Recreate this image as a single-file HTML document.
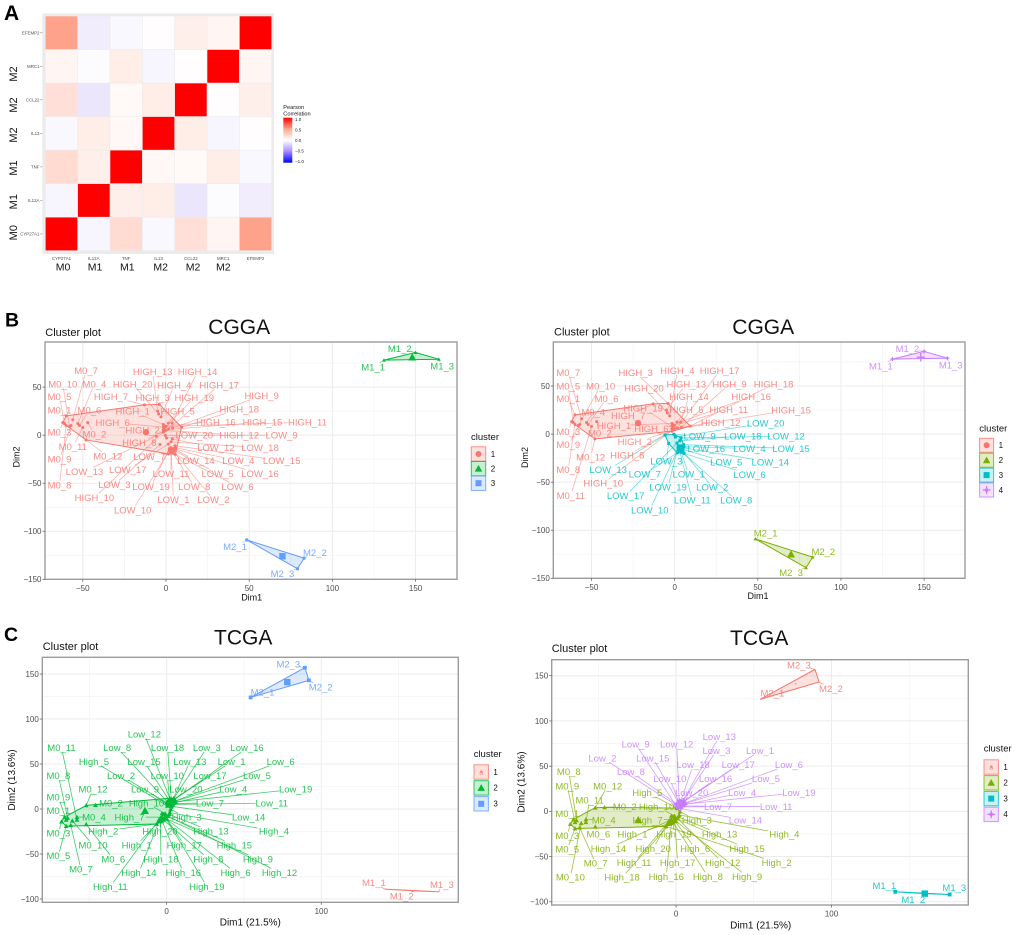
<!DOCTYPE html>
<html>
<head>
<meta charset="utf-8">
<title>Correlation heatmap and cluster plots</title>
<style>
html,body{margin:0;padding:0;background:#fff;width:1020px;height:935px;overflow:hidden}
svg{display:block;font-family:"Liberation Sans",sans-serif;filter:blur(0.35px)}
</style>
</head>
<body>
<svg id="fig" xmlns="http://www.w3.org/2000/svg" width="1020" height="935" viewBox="0 0 1020 935">
<defs>
<linearGradient id="cbar" x1="0" y1="0" x2="0" y2="1">
<stop offset="0" stop-color="#ff0000"/><stop offset="0.25" stop-color="#ffa98f"/><stop offset="0.5" stop-color="#ffffff"/><stop offset="0.75" stop-color="#a58cff"/><stop offset="1" stop-color="#0000ff"/>
</linearGradient>
</defs>
</svg>
<script>
// ---------- heatmap data ----------
const genes = ["CYP27A1","IL12A","TNF","IL13","CCL22","MRC1","EFEMP2"];
const geneTypesX = ["M0","M1","M1","M2","M2","M2"];
const geneTypesY = ["M0","M1","M1","M2","M2","M2"];
const corrCYP27A1 = [1,-.05,.17,-.04,.15,.05,.4];
const corrIL12A = [-.05,1,.08,.09,-.12,-.02,-.09];
const corrTNF = [.17,.08,1,.04,.03,.09,-.04];
const corrIL13 = [-.04,.09,.04,1,.09,-.05,.01];
const corrCCL22 = [.15,-.12,.03,.09,1,.01,.08];
const corrMRC1 = [.05,-.02,.09,-.05,.01,1,.05];
const corrEFEMP2 = [.4,-.09,-.04,.01,.08,.05,1];
const corrRows = [corrCYP27A1,corrIL12A,corrTNF,corrIL13,corrCCL22,corrMRC1,corrEFEMP2];
const corrTicks = [1,0.5,0,-0.5,-1];

// ---------- cluster data (Dim1, Dim2) ----------
const cggaM0 = [["M0_1",-60,20],["M0_2",-47,13],["M0_3",-62,13],["M0_4",-53,12],["M0_5",-61,12],["M0_6",-52,10],["M0_7",-56,16],["M0_8",-60,10],["M0_9",-57,10],["M0_10",-58,9],["M0_11",-50,8],["M0_12",-48,-5]];
const cggaHigh = [["HIGH_1",-1.6,11],["HIGH_2",-1.6,3],["HIGH_3",-4,32],["HIGH_4",-3,19],["HIGH_5",1.4,12.5],["HIGH_6",-1.6,8.3],["HIGH_7",-13,31.5],["HIGH_8",0,5],["HIGH_9",4,7.3],["HIGH_10",-1,4.5],["HIGH_11",0,9],["HIGH_12",-1.6,5],["HIGH_13",-5,25],["HIGH_14",3.6,12.5],["HIGH_15",-1.6,5.5],["HIGH_16",-1,9.7],["HIGH_17",1.6,6.6],["HIGH_18",9.4,8.3],["HIGH_19",-1,7],["HIGH_20",-4.4,22]];
const cggaLow = [["LOW_1",3,-15],["LOW_2",4.5,-17],["LOW_3",-3.6,-9.7],["LOW_4",5.5,-13],["LOW_5",5,-16],["LOW_6",5.6,-20],["LOW_7",1.5,-19.5],["LOW_8",4,-18],["LOW_9",-0.4,-0.3],["LOW_10",2,-16],["LOW_11",3,-18],["LOW_12",3.8,-4],["LOW_13",-5.8,-1],["LOW_14",4.5,-14],["LOW_15",5.4,-11],["LOW_16",3,-13],["LOW_17",1.4,-9.3],["LOW_18",3,-7],["LOW_19",2,-14],["LOW_20",0.4,-3]];
const cggaM1 = [["M1_1",131,78],["M1_2",150,86],["M1_3",164,79]];
const cggaM2 = [["M2_1",48.5,-109],["M2_2",83,-128],["M2_3",79,-139]];

const tcgaM0 = [["M0_1",-66,-9],["M0_2",-46,4.4],["M0_3",-68,-14],["M0_4",-58,-9],["M0_5",-65,-19],["M0_6",-52,-17],["M0_7",-62,-18],["M0_8",-64,-10],["M0_9",-65,-12],["M0_10",-61,-13],["M0_11",-58,-12],["M0_12",-52,4]];
const tcgaHigh = [["High_1",-5,-14],["High_2",-6.5,-16.7],["High_3",2.5,-0.5],["High_4",2,-4],["High_5",0.5,3.5],["High_6",-1,-10],["High_7",-3,-9],["High_8",-2,-12],["High_9",0,-11],["High_10",-1,-5],["High_11",-5,-12],["High_12",1,-8],["High_13",1.5,-6],["High_14",-4,-10],["High_15",0,-8],["High_16",-3,-13],["High_17",-1,-8],["High_18",-4,-14],["High_19",-2,-6],["High_20",-3,-5]];
const tcgaLow = [["Low_1",5,11],["Low_2",0,7],["Low_3",4,10],["Low_4",5,7],["Low_5",4.5,8],["Low_6",5.5,9],["Low_7",3,6],["Low_8",0.5,8],["Low_9",0.5,5],["Low_10",2,9],["Low_11",4,5],["Low_12",2,12],["Low_13",4.5,12],["Low_14",3,3],["Low_15",1.5,10],["Low_16",3,8],["Low_17",3.5,9.5],["Low_18",3,11],["Low_19",5.8,8],["Low_20",2,5]];
const tcgaM1 = [["M1_1",141,-89],["M1_2",160,-91],["M1_3",176,-92]];
const tcgaM2 = [["M2_1",54.3,124],["M2_2",92,143],["M2_3",89.4,157]];

// ---------- repelled label positions (Dim1, Dim2) ----------
const labelsB1 = [["M0_7",-48,67],["M0_10",-62,53],["M0_4",-43,53],["M0_5",-64,40],["M0_1",-64,26],["M0_6",-46,26],["M0_3",-64,3],["M0_2",-43,1],["M0_11",-56,-12],["M0_12",-35,-22],["M0_9",-64,-25],["M0_8",-64,-52],["HIGH_13",-8,66],["HIGH_14",19,66],["HIGH_20",-20,53],["HIGH_4",5,52],["HIGH_17",32,52],["HIGH_7",-33,40],["HIGH_3",-8,39],["HIGH_19",17,39],["HIGH_9",57.5,41],["HIGH_18",44,27],["HIGH_1",-20,25],["HIGH_5",7,25],["HIGH_6",-32,13],["HIGH_16",30,13.5],["HIGH_15",58,13.5],["HIGH_11",85,13.5],["HIGH_2",-14,5],["LOW_20",17,0],["HIGH_12",44,0],["LOW_9",69.5,0],["HIGH_8",-16,-8],["LOW_12",30,-13],["LOW_18",56.5,-13],["LOW_7",-10,-22.5],["LOW_14",18,-26.5],["LOW_4",43.5,-26.5],["LOW_15",69.5,-26.5],["LOW_13",-49,-38],["LOW_17",-23,-36],["LOW_11",3,-40],["LOW_5",31,-40],["LOW_16",56.5,-40],["LOW_3",-31,-51.5],["LOW_19",-9,-53.5],["LOW_8",17,-53.5],["LOW_6",43,-53.5],["HIGH_10",-43,-65],["LOW_1",4.5,-67],["LOW_2",28.5,-67],["LOW_10",-20,-78],["M2_1",41.5,-116],["M2_2",89.5,-122],["M2_3",70,-144],["M1_1",124.5,71],["M1_2",140.5,90],["M1_3",166,72]];
const labelsB2 = [["M0_7",-64,64],["M0_5",-64,50],["M0_10",-44.5,50],["M0_1",-64,37],["M0_6",-41,37],["M0_4",-49,23],["M0_3",-64,2.4],["M0_2",-45,1],["M0_9",-64,-11],["M0_12",-50.5,-24],["M0_8",-64,-37],["M0_11",-62.5,-64],["HIGH_3",-23.5,64],["HIGH_4",1.6,66],["HIGH_17",27,66],["HIGH_20",-18.5,48],["HIGH_13",7,52],["HIGH_9",33,52],["HIGH_18",59.5,52],["HIGH_14",8.6,39],["HIGH_16",46,39],["HIGH_19",-19,27],["HIGH_5",7,25.6],["HIGH_11",32.5,25.6],["HIGH_15",70,25],["HIGH_7",-28,19],["HIGH_1",-36.5,9],["HIGH_6",-14,5.5],["HIGH_12",27.7,12],["LOW_20",54.7,11.4],["HIGH_2",-24,-8],["LOW_9",15,-2],["LOW_18",41,-2],["LOW_12",67,-2],["LOW_16",19,-15],["LOW_4",45,-15],["LOW_15",70,-15],["HIGH_8",-28.5,-22],["LOW_3",-5,-28],["LOW_5",31,-29],["LOW_14",57.5,-29],["LOW_13",-40,-37],["LOW_7",-18,-41.5],["LOW_1",8.4,-41.5],["LOW_6",45,-42],["HIGH_10",-43,-51],["LOW_19",-4,-55],["LOW_2",22.6,-55],["LOW_17",-29.5,-64],["LOW_11",10.6,-68.5],["LOW_8",37,-68.5],["LOW_10",-15,-79],["M2_1",54.7,-103],["M2_2",89.4,-122],["M2_3",70,-144],["M1_1",124,70.6],["M1_2",140,89],["M1_3",166,72]];
const labelsC1 = [["M0_11",-68,68],["Low_8",-32,68],["Low_12",-14.4,83],["Low_18",0.6,68],["Low_3",26,68],["Low_16",52,68],["High_5",-47,52.6],["Low_15",-14.6,52.6],["Low_13",15,52.6],["Low_1",42,52.6],["Low_6",73.7,52.6],["M0_8",-70,37],["Low_2",-29.5,37],["Low_10",0.4,37],["Low_17",28,37],["Low_5",58.4,37],["Low_9",-14,22],["Low_20",12.5,22],["Low_4",43,22],["Low_19",83.4,22],["M0_12",-47.6,22],["M0_9",-70,13],["M0_2",-36,6.7],["High_10",-13,6.7],["Low_7",28,6.7],["Low_11",68,6.7],["M0_1",-70,-2],["M0_4",-47,-9],["High_7",-24,-9],["High_3",13,-9],["Low_14",53,-9],["High_2",-41,-24.4],["High_20",-4.3,-24.4],["High_13",28.7,-24.4],["High_4",69.4,-24.4],["M0_3",-70,-27],["M0_10",-47.6,-40],["High_1",-19.4,-40],["High_17",11.4,-40],["High_15",43.8,-40],["M0_5",-70,-52],["M0_6",-34.5,-55.6],["High_18",-3.7,-55.6],["High_8",27,-55.6],["High_9",59,-55.6],["M0_7",-55.4,-67],["High_14",-18,-70.7],["High_16",10.8,-70.7],["High_6",44.6,-70.7],["High_12",73,-70.7],["High_11",-36.4,-86],["High_19",26,-86],["M2_1",62,130],["M2_2",99.6,135.6],["M2_3",78.7,161],["M1_1",134,-82],["M1_2",152,-97],["M1_3",178,-84]];
const labelsC2 = [["Low_13",27.8,82.6],["Low_9",-26,74.4],["Low_12",0.4,74.4],["Low_3",26,67],["Low_1",54,67],["Low_2",-47.4,59],["Low_15",-15,59],["Low_18",11,51.5],["Low_17",40,51.5],["Low_6",72.6,51.5],["M0_8",-69,43.7],["Low_8",-29,43.7],["Low_10",-4,36],["Low_16",25.4,36],["Low_5",57.8,36],["M0_9",-70,28],["M0_12",-44,28],["High_5",-18.5,20.7],["Low_20",10,20.7],["Low_4",42.5,20.7],["Low_19",79,20.7],["M0_11",-55.6,12.6],["M0_2",-33,5.5],["High_10",-12.5,5.5],["Low_7",27,5.5],["Low_11",64.4,5.5],["M0_1",-70,-2.6],["M0_4",-46.5,-9.6],["High_7",-18.3,-9.6],["High_3",13.4,-9.6],["Low_14",44.6,-9.6],["High_4",69.7,-25],["M0_3",-70,-27],["M0_6",-50,-25],["High_1",-28,-25],["High_19",-1.3,-25],["High_13",28,-25],["M0_5",-70,-42],["High_14",-43.5,-41],["High_20",-14.7,-41],["High_6",12.3,-41],["High_15",45.7,-41],["High_2",64.7,-56.7],["M0_7",-51.7,-57.4],["High_11",-27,-56.7],["High_17",1,-56.7],["High_12",30,-56.7],["M0_10",-68,-73],["High_18",-34.7,-73],["High_16",-6.3,-72],["High_8",20.5,-72],["High_9",45.7,-72],["M2_3",79,161.5],["M2_1",62,130.7],["M2_2",99.6,135.6],["M1_1",134,-82],["M1_2",152.6,-97.4],["M1_3",179,-84.4]];

// ---------- cluster membership and centres ----------
const membershipB1 = {M0:1,HIGH:1,LOW:1,M1:2,M2:3};
const membershipB2 = {M0:1,HIGH:1,M2:2,LOW:3,M1:4};
const membershipC1 = {M1:1,M0:2,High:2,Low:2,M2:3};
const membershipC2 = {M2:1,M0:2,High:2,M1:3,Low:4};
const centresB1 = [[1,-12,3],[2,148,81],[3,70,-126]];
const centresB2 = [[1,-22,11.4],[2,70,-125],[3,3.2,-14],[4,148,80]];
const centresC1 = [[1,159,-91],[2,-14,-2],[3,78,141]];
const centresC2 = [[1,77,141],[2,-24.3,-9.6],[3,160,-91],[4,2.6,7]];
const cggaTicksX = [-50,0,50,100,150];
const cggaTicksY = [-150,-100,-50,0,50];
const tcgaTicksX = [0,100];
const tcgaTicksY = [-100,-50,0,50,100,150];
const colors3 = {1:"#F8766D",2:"#00BA38",3:"#619CFF"};
const colors4 = {1:"#F8766D",2:"#7CAE00",3:"#00BFC4",4:"#C77CFF"};

// ---------- helpers ----------
const svg = document.getElementById('fig');
function mk(tag, attrs, parent, txt){
  const e = document.createElementNS('http://www.w3.org/2000/svg', tag);
  for (const k in attrs) e.setAttribute(k, attrs[k]);
  if (txt !== undefined) e.textContent = txt;
  (parent || svg).appendChild(e);
  return e;
}
function minus(v){ return String(v).replace('-', '\u2212'); }
function hull(pts){
  const p = pts.slice().sort((a,b)=>a[0]-b[0]||a[1]-b[1]);
  const cross=(o,a,b)=>(a[0]-o[0])*(b[1]-o[1])-(a[1]-o[1])*(b[0]-o[0]);
  const lo=[],up=[];
  for(const q of p){ while(lo.length>1&&cross(lo[lo.length-2],lo[lo.length-1],q)<=0) lo.pop(); lo.push(q); }
  for(const q of p.slice().reverse()){ while(up.length>1&&cross(up[up.length-2],up[up.length-1],q)<=0) up.pop(); up.push(q); }
  lo.pop(); up.pop();
  return lo.concat(up);
}
function marker(g, cluster, cx, cy, s, color){
  let m;
  if (cluster === 1) {
    m = mk('circle',{cx:cx,cy:cy,r:s,fill:color},g);
  } else if (cluster === 2) {
    m = mk('polygon',{points:(cx-s*1.25)+','+(cy+s)+' '+(cx+s*1.25)+','+(cy+s)+' '+cx+','+(cy-s*1.25),fill:color},g);
  } else if (cluster === 3) {
    m = mk('rect',{x:cx-s,y:cy-s,width:2*s,height:2*s,fill:color},g);
  } else {
    m = mk('path',{d:'M'+(cx-s*1.3)+' '+cy+'H'+(cx+s*1.3)+'M'+cx+' '+(cy-s*1.3)+'V'+(cy+s*1.3),stroke:color,'stroke-width':1.3,fill:'none'},g);
  }
  return m;
}

// ---------- heatmap ----------
function corrColor(v){
  const f = Math.pow(Math.abs(v),1.1);
  if (v >= 0) {
    const c = 255*(1-f);
    return 'rgb(255,'+Math.round(c)+','+Math.round(Math.max(0,c-(255-c)*0.25))+')';
  }
  return 'rgb('+Math.round(255*(1-0.8*f))+','+Math.round(255*(1-f))+','+Math.round(255*(1-0.15*f))+')';
}
function drawHeatmap(){
  const g = mk('g',{});
  
  
  const L=45.3,R=271.7,T=16,B=250.7,w=(R-L)/genes.length,h=(B-T)/genes.length;
  const bg = mk('rect',{x:42.3,y:13.3,width:231.7,height:240.7,fill:'#ebebeb'},g);
  
  
  corrRows.forEach((row,r)=>row.forEach((v,c)=>{
    const cell = mk('rect',{x:L+c*w+0.3,y:B-(r+1)*h+0.3,width:w-0.6,height:h-0.6,fill:corrColor(v)},g);
    
    
  }));
  genes.forEach((n,i)=>{
    const xt = mk('text',{x:L+(i+.5)*w,y:260,'font-size':4.4,fill:'#4d4d4d','text-anchor':'middle'},g,n);
    
    
    const yt = mk('text',{x:39.5,y:B-(i+.5)*h+1.5,'font-size':4.4,fill:'#4d4d4d','text-anchor':'end'},g,n);
    
    
    const tk = mk('line',{x1:40.3,x2:42.3,y1:B-(i+.5)*h,y2:B-(i+.5)*h,stroke:'#666','stroke-width':0.5},g);
    
    
  });
  geneTypesX.forEach((t,i)=>{
    const xc = [63,95,127.3,160.7,193,223.3][i];
    const lb = mk('text',{x:xc,y:270.7,'font-size':10.5,fill:'#111','text-anchor':'middle'},g,t);
    
    
  });
  geneTypesY.forEach((t,i)=>{
    const yc = [232.7,201.7,168,135,105,74][i];
    const lb = mk('text',{x:17,y:yc,'font-size':11,fill:'#111','text-anchor':'middle',transform:'rotate(-90 17 '+yc+')'},g,t);
    
    
  });
  const t1 = mk('text',{x:283.3,y:109,'font-size':5.6,fill:'#111'},g,'Pearson');
  
  
  const t2 = mk('text',{x:283.3,y:115.3,'font-size':5.6,fill:'#111'},g,'Correlation');
  
  
  const bar = mk('rect',{x:283.3,y:117.7,width:9,height:45,fill:'url(#cbar)'},g);
  
  
  corrTicks.forEach(v=>{
    const y = 140.2 - v*21;
    const lb = mk('text',{x:295,y:y+1.6,'font-size':4.5,fill:'#222'},g,minus(v.toFixed(1)));
    
    
  });
}

// ---------- cluster plot ----------
function drawCluster(o){
  const g = mk('g',{});
  
  
  const sx = v => o.box[0] + (v-o.dx[0])*(o.box[2]-o.box[0])/(o.dx[1]-o.dx[0]);
  const sy = v => o.box[3] - (v-o.dy[0])*(o.box[3]-o.box[1])/(o.dy[1]-o.dy[0]);
  const colors = o.colors;
  // grid
  const gridLines = (ticks,fn)=>{
    const st = ticks[1]-ticks[0];
    const all = [ticks[0]-st].concat(ticks,[ticks[ticks.length-1]+st]);
    all.forEach(t=>{ fn(t,'#ececec',1); fn(t+st/2,'#f3f3f3',0.7); });
  };
  gridLines(o.ticksX,(t,c,w)=>{
    if (t<=o.dx[0]||t>=o.dx[1]) return;
    const l = mk('line',{x1:sx(t),x2:sx(t),y1:o.box[1],y2:o.box[3],stroke:c,'stroke-width':w},g);
    
    
  });
  gridLines(o.ticksY,(t,c,w)=>{
    if (t<=o.dy[0]||t>=o.dy[1]) return;
    const l = mk('line',{x1:o.box[0],x2:o.box[2],y1:sy(t),y2:sy(t),stroke:c,'stroke-width':w},g);
    
    
  });
  // points by cluster
  const byName = {}, groups = {};
  o.points.forEach(p=>{
    const cl = o.membership[p[0].split('_')[0]];
    byName[p[0]] = {x:p[1],y:p[2],cl:cl};
    (groups[cl] = groups[cl] || []).push([p[1],p[2]]);
  });
  // hulls
  Object.keys(groups).forEach(cl=>{
    const h = hull(groups[cl]).map(p=>sx(p[0])+','+sy(p[1])).join(' ');
    const poly = mk('polygon',{points:h,fill:colors[cl],'fill-opacity':0.22,stroke:colors[cl],'stroke-width':1,'stroke-linejoin':'round'},g);
    
    
  });
  // connector lines
  o.labels.forEach(l=>{
    const p = byName[l[0]];
    const px = sx(p.x), py = sy(p.y), lx = sx(l[1]), ly = sy(l[2]);
    const hw = l[0].length*2.7, hh = 4.2;
    const dx = px-lx, dy = py-ly;
    const t = Math.min(hw/Math.max(Math.abs(dx),.01), hh/Math.max(Math.abs(dy),.01));
    if (t < 1) {
      const seg = mk('line',{x1:px,y1:py,x2:lx+dx*t,y2:ly+dy*t,stroke:colors[p.cl],'stroke-width':0.8,'stroke-opacity':o.lineOpacity},g);
      
      
    }
  });
  // points
  o.points.forEach(p=>{
    const cl = o.membership[p[0].split('_')[0]];
    if (cl === o.tiny) return;
    const m = marker(g, cl, sx(p[1]), sy(p[2]), o.pointSize, colors[cl]);
    
    
  });
  // centres
  o.centres.forEach(c=>{
    const m = marker(g, c[0], sx(c[1]), sy(c[2]), c[0]===o.tiny ? 0.7 : 3.2, colors[c[0]]);
    
    
  });
  // labels
  o.labels.forEach(l=>{
    const p = byName[l[0]];
    const t = mk('text',{x:sx(l[1]),y:sy(l[2])+3.4,'font-size':9.5,fill:colors[p.cl],'fill-opacity':0.85,'text-anchor':'middle'},g,l[0]);
    
    
  });
  // frame
  const fr = mk('rect',{x:o.box[0],y:o.box[1],width:o.box[2]-o.box[0],height:o.box[3]-o.box[1],fill:'none',stroke:'#9c9c9c','stroke-width':1.4},g);
  
  
  // ticks
  o.ticksX.forEach(t=>{
    const k = mk('line',{x1:sx(t),x2:sx(t),y1:o.box[3],y2:o.box[3]+2.5,stroke:'#555','stroke-width':0.7},g);
    
    
    const lb = mk('text',{x:sx(t),y:o.box[3]+11.5,'font-size':8,fill:'#4d4d4d','text-anchor':'middle'},g,minus(t));
    
    
  });
  o.ticksY.forEach(t=>{
    const k = mk('line',{x1:o.box[0]-2.5,x2:o.box[0],y1:sy(t),y2:sy(t),stroke:'#555','stroke-width':0.7},g);
    
    
    const lb = mk('text',{x:o.box[0]-3.5,y:sy(t)+2.9,'font-size':8,fill:'#4d4d4d','text-anchor':'end'},g,minus(t));
    
    
  });
  // text
  const tt = mk('text',{x:o.titleX,y:o.titleY,'font-size':21,fill:'#111'},g,o.title);
  
  
  const cp = mk('text',{x:o.subX,y:o.subY,'font-size':11,fill:'#111'},g,'Cluster plot');
  
  
  const xa = mk('text',{x:o.xLab[1],y:o.xLab[2],'font-size':o.axisSize,fill:'#111','text-anchor':'middle'},g,o.xLab[0]);
  
  
  const ya = mk('text',{x:o.yLab[1],y:o.yLab[2],'font-size':o.axisSize,fill:'#111','text-anchor':'middle',transform:'rotate(-90 '+o.yLab[1]+' '+o.yLab[2]+')'},g,o.yLab[0]);
  
  
  // legend
  const lt = mk('text',{x:o.legend.x,y:o.legend.titleY,'font-size':9.5,fill:'#111'},g,'cluster');
  
  
  Object.keys(colors).forEach((cl,i)=>{
    const cy = o.legend.y0 + i*o.legend.step, k = o.legend.key, c = colors[cl], x = o.legend.x + 0.3;
    const box = mk('rect',{x:x,y:cy-k/2,width:k,height:k,fill:c,'fill-opacity':0.22,stroke:c,'stroke-opacity':0.8,'stroke-width':1},g);
    
    
    const small = +cl === o.tiny;
    const m = marker(g, +cl, x+k/2, cy, small ? 0.9 : 3, c);
    
    
    if (small) {
      const a = mk('text',{x:x+k/2,y:cy+2.5,'font-size':7,fill:c,'text-anchor':'middle'},g,'a');
      
      
    }
    if (+cl === 4) {
      const dot = mk('circle',{cx:x+k/2,cy:cy,r:1.8,fill:c},g);
      
      
    }
    const tx = mk('text',{x:x+k+5,y:cy+2.8,'font-size':8,fill:'#111'},g,cl);
    
    
  });
}

// ---------- panel letters ----------
[["A",4,20,21],["B",5,326.7,19.5],["C",4,641,19.5]].forEach(p=>{
  const t = mk('text',{x:p[1],y:p[2],'font-size':p[3],'font-weight':'bold',fill:'#000'},svg,p[0]);
  
  
});

drawHeatmap();
const cggaAll = cggaM0.concat(cggaHigh,cggaLow,cggaM1,cggaM2);
const tcgaAll = tcgaM0.concat(tcgaHigh,tcgaLow,tcgaM1,tcgaM2);
drawCluster({name:'cgga-cluster-plot-3',box:[45,342,457,579.3],dx:[-72.7,174.9],dy:[-150,96.9],ticksX:cggaTicksX,ticksY:cggaTicksY,points:cggaAll,labels:labelsB1,membership:membershipB1,centres:centresB1,colors:colors3,lineOpacity:0.55,pointSize:1.5,title:'CGGA',titleX:208.3,titleY:334,subX:45.3,subY:336,xLab:['Dim1',251.7,600.7],yLab:['Dim2',19.5,457],axisSize:9,legend:{x:471,titleY:440,y0:454,step:14.6,key:14.4}});
drawCluster({name:'cgga-cluster-plot-4',box:[553.3,342,965,578.3],dx:[-73,174.6],dy:[-150,95.8],ticksX:cggaTicksX,ticksY:cggaTicksY,points:cggaAll,labels:labelsB2,membership:membershipB2,centres:centresB2,colors:colors4,lineOpacity:0.55,pointSize:1.5,title:'CGGA',titleX:732.3,titleY:334,subX:554,subY:335.3,xLab:['Dim1',758,599],yLab:['Dim2',528,457.5],axisSize:9,legend:{x:979.3,titleY:431.7,y0:445.3,step:14.9,key:14}});
drawCluster({name:'tcga-cluster-plot-3',box:[42.3,657.3,458.3,902.3],dx:[-80.4,188.6],dy:[-103.7,168.6],ticksX:tcgaTicksX,ticksY:tcgaTicksY,points:tcgaAll,labels:labelsC1,membership:membershipC1,centres:centresC1,colors:colors3,lineOpacity:0.75,pointSize:1.9,tiny:1,title:'TCGA',titleX:214,titleY:644.3,subX:42.7,subY:650,xLab:['Dim1 (21.5%)',250.3,925.3],yLab:['Dim2 (13.6%)',15,780],axisSize:10,legend:{x:473.7,titleY:757,y0:772,step:15.9,key:14.4}});
drawCluster({name:'tcga-cluster-plot-4',box:[551.7,659.7,968.3,905],dx:[-80,188],dy:[-103.6,167.7],ticksX:tcgaTicksX,ticksY:tcgaTicksY,points:tcgaAll,labels:labelsC2,membership:membershipC2,centres:centresC2,colors:colors4,lineOpacity:0.75,pointSize:1.9,tiny:1,title:'TCGA',titleX:730,titleY:645,subX:551.7,subY:652,xLab:['Dim1 (21.5%)',760.7,928.3],yLab:['Dim2 (13.6%)',524.5,782],axisSize:10,legend:{x:983.7,titleY:751.7,y0:767,step:15.8,key:14.4}});
</script>
</body>
</html>
